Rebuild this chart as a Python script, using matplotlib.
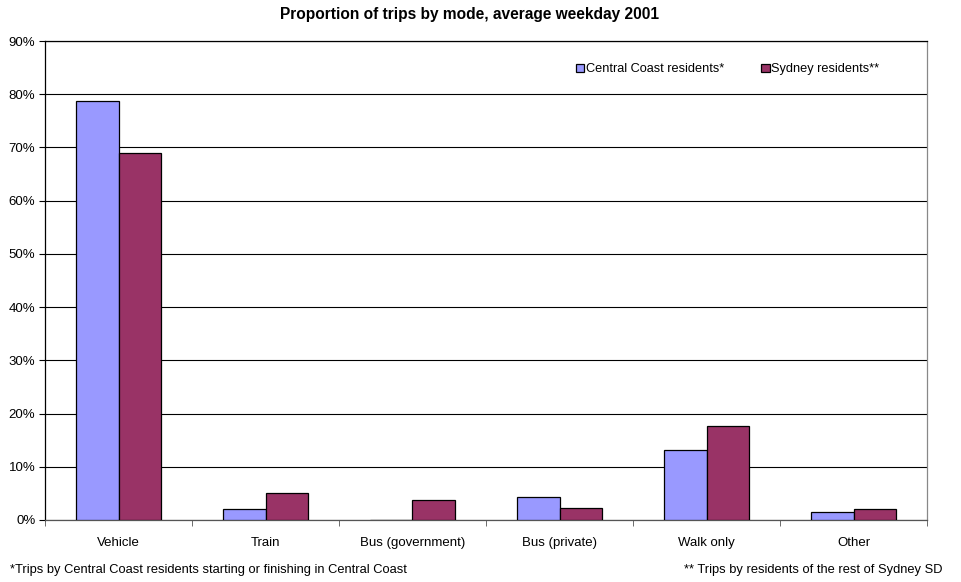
import matplotlib
matplotlib.use("Agg")
import matplotlib.pyplot as plt
import numpy as np
from matplotlib.ticker import FuncFormatter, MultipleLocator
from matplotlib import font_manager as fm

plt.rcParams['font.family'] = ['Liberation Sans', 'DejaVu Sans']

categories = ["Vehicle", "Train", "Bus (government)", "Bus (private)", "Walk only", "Other"]
central_coast = [78.8, 2.0, 0.0, 4.3, 13.2, 1.45]
sydney = [69.0, 5.1, 3.8, 2.25, 17.7, 2.0]
series_names = ["Central Coast residents*", "Sydney residents**"]
colors = ["#9999FF", "#993366"]

fig = plt.figure(figsize=(9.61, 5.82), dpi=100)
ax = fig.add_axes([45/961, 1-520/582, (927-45)/961, (520-41)/582])

x = np.arange(len(categories))
w = 0.286
ax.bar(x - w/2, central_coast, w, color=colors[0], edgecolor="black", linewidth=0.9, label=series_names[0], zorder=3)
ax.bar(x + w/2, sydney, w, color=colors[1], edgecolor="black", linewidth=0.9, label=series_names[1], zorder=3)

ax.set_xlim(-0.5, len(categories) - 0.5)
ax.set_ylim(0, 90)
ax.yaxis.set_major_locator(MultipleLocator(10))
ax.yaxis.set_major_formatter(FuncFormatter(lambda v, p: f"{int(round(v))}%"))
ax.grid(axis="y", color="black", linewidth=0.8, zorder=0)
ax.set_xticks(x)
ax.set_xticklabels(categories)
ax.tick_params(axis="x", length=0, labelsize=9.5, pad=12)
ax.set_xticks(np.arange(len(categories) + 1) - 0.5, minor=True)
ax.tick_params(axis="x", which="minor", length=4, direction="out", color="#555555")
ax.tick_params(axis="y", length=4, direction="out", labelsize=9.5, pad=3)
for s in ["left", "top"]:
    ax.spines[s].set_color("black")
ax.spines["bottom"].set_color("#555555")
ax.spines["right"].set_color("#888888")
for s in ax.spines.values():
    s.set_linewidth(0.9)

leg = ax.legend(loc="upper right", bbox_to_anchor=(886/961, 1-57/582), bbox_transform=fig.transFigure,
                ncol=2, frameon=False, borderpad=0,
                fontsize=9.2, handlelength=0.65, handleheight=0.65, handletextpad=0.15,
                columnspacing=2.9)

title_fp = fm.FontProperties(family="Liberation Sans", weight="bold", stretch="normal", size=10)
try:
    path = fm.findfont(title_fp, fallback_to_default=True)
    if "Narrow" in path:
        cands = [f.fname for f in fm.fontManager.ttflist
                 if f.name == "Liberation Sans" and f.weight in (700, "bold") and "Narrow" not in f.fname
                 and f.style == "normal"]
        if cands:
            title_fp = fm.FontProperties(fname=cands[0], size=10)
except Exception:
    pass

t = fig.text(470/961, 1-14/582, "Proportion of trips by mode, average weekday 2001", ha="center", va="center",
             fontproperties=title_fp)
fig.text(10/961, 1-570/582, "*Trips by Central Coast residents starting or finishing in Central Coast",
         ha="left", va="center", fontsize=9.3)
fig.text(943/961, 1-570/582, "** Trips by residents of the rest of Sydney SD",
         ha="right", va="center", fontsize=9.3)

# scale title to match reference width (~380 px)
fig.canvas.draw()
bb = t.get_window_extent()
if bb.width > 0:
    title_fp.set_size(10 * 380.0 / bb.width)
    t.set_fontproperties(title_fp)

fig.savefig("out.png", dpi=100)
